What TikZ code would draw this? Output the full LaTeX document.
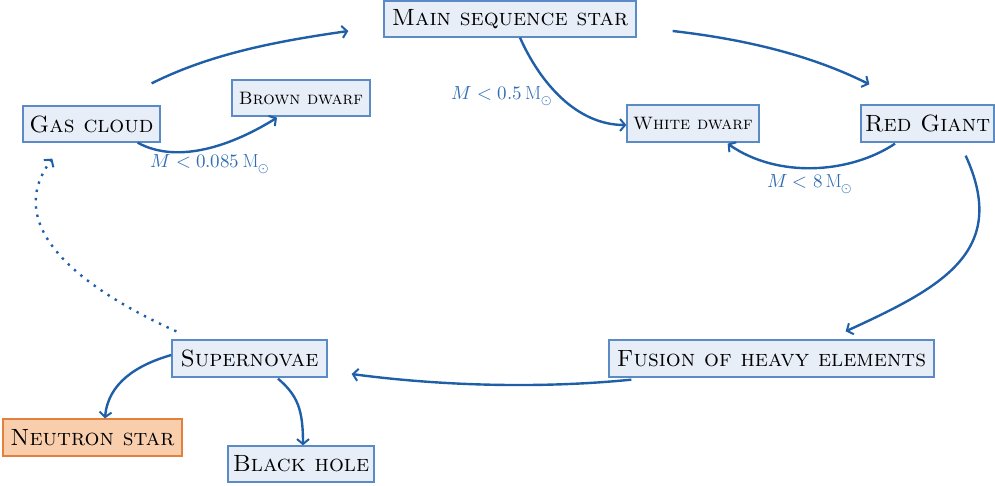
\documentclass[tikz,border=0pt]{standalone}
\usepackage{fontspec}
\usepackage{unicode-math}
\usetikzlibrary{arrows.meta,calc}
\definecolor{arrowblue}{HTML}{1F5FA8}
\definecolor{boxfill}{HTML}{E8EEF8}
\definecolor{boxdraw}{HTML}{5A8BC6}
\definecolor{labelblue}{HTML}{2F6EB5}
\definecolor{orangefill}{HTML}{F8CEAD}
\definecolor{orangedraw}{HTML}{E2813E}
\newcommand{\bigsc}{\fontsize{23.5}{26}\selectfont\scshape}
\newcommand{\smallsc}{\fontsize{18}{21}\selectfont\scshape}
\tikzset{
  stage/.style={draw=boxdraw, fill=boxfill, line width=1.3pt, inner sep=0pt, align=center, text=black},
  orangestage/.style={stage, draw=orangedraw, fill=orangefill},
  arr/.style={draw=arrowblue, line width=2.4pt, -{Straight Barb[length=5pt,width=12pt,line width=2pt]}},
  dotarr/.style={arr, dash pattern=on 2.4pt off 6pt},
  masslabel/.style={text=labelblue, font=\fontsize{19}{22}\selectfont, inner sep=0pt}
}
\begin{document}
\begin{tikzpicture}[x=1pt,y=-1pt]
\useasboundingbox (0,0) rectangle (995,485);

\node[stage, minimum width=137pt, minimum height=36pt] (gas) at (91.5,124) {\bigsc Gas cloud};
\node[stage, minimum width=138pt, minimum height=36pt] (brown) at (301,98) {\smallsc Brown dwarf};
\node[stage, minimum width=252pt, minimum height=36pt] (main) at (510,19) {\bigsc Main sequence star};
\node[stage, minimum width=132pt, minimum height=37pt] (white) at (693,123.5) {\smallsc White dwarf};
\node[stage, minimum width=133pt, minimum height=37pt] (red) at (927.5,123.5) {\bigsc Red Giant};
\node[stage, minimum width=325pt, minimum height=37pt] (fusion) at (771.5,358.5) {\bigsc Fusion of heavy elements};
\node[stage, minimum width=155pt, minimum height=37pt] (super) at (249.5,358.5) {\bigsc Supernovae};
\node[orangestage, minimum width=179pt, minimum height=37pt] (neutron) at (92.5,437.5) {\bigsc Neutron star};
\node[stage, minimum width=146pt, minimum height=36pt] (black) at (301,464) {\bigsc Black hole};

\node[masslabel] (l1) at (210,164) {$M<0.085\,\mathrm{M}_{\odot}$};
\node[masslabel] (l2) at (502,96) {$M<0.5\,\mathrm{M}_{\odot}$};
\node[masslabel] (l3) at (810,184) {$M<8\,\mathrm{M}_{\odot}$};

% main cycle
\draw[arr] ($(gas.north east)+(-9,-22)$) .. controls +(60,-30) and +(-70,10) .. ($(main.west)+(-35,12)$);
\draw[arr] ($(main.east)+(36,12)$) .. controls +(70,8) and +(-60,-30) .. ($(red.north west)+(9,-20)$);
\draw[arr] ($(red.south east)+(-29,13)$) .. controls +(44,96) and +(96,-44) .. ($(fusion.north east)+(-89,-8)$);
\draw[arr] ($(fusion.south west)+(23,2)$) .. controls +(-90,9) and +(90,12) .. ($(super.east)+(24,15.5)$);
\draw[dotarr] ($(super.north west)+(5,-8)$) .. controls +(-90,-40.5) and +(-52.5,70) .. ($(gas.south west)+(30,16)$);

% branches
\draw[arr] ($(gas.south east)+(-23,0)$) .. controls +(40,22) and +(-45,28) .. ($(brown.south)+(-24,1)$);
\draw[arr] ($(main.south)+(10,0)$) .. controls +(20,45) and +(-50,0) .. ($(white.west)+(0,1.5)$);
\draw[arr] ($(red.south)+(-32.5,1)$) .. controls +(-45,30) and +(50,35) .. ($(white.south east)+(-32,1)$);
\draw[arr] ($(super.west)+(0,-3.5)$) .. controls +(-35,10) and +(3,-35) .. ($(neutron.north)+(12.5,0)$);
\draw[arr] ($(super.south)+(28.5,1)$) .. controls +(20,17) and +(0,-35) .. ($(black.north)+(2,0)$);
\end{tikzpicture}
\end{document}
